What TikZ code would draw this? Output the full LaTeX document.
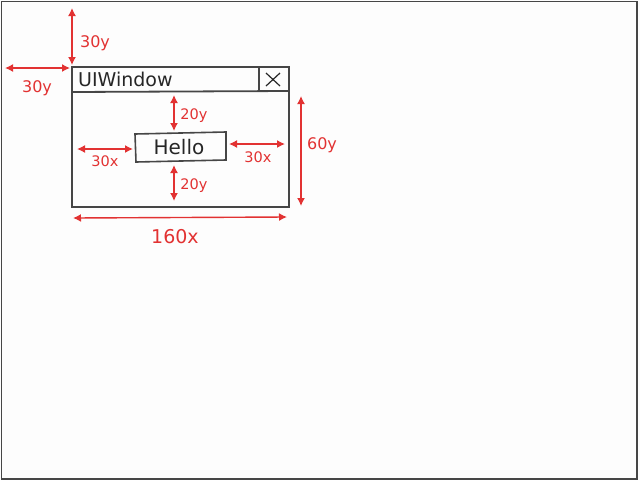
\documentclass[tikz,border=0pt]{standalone}
\usepackage{fontspec}
\setmainfont{DejaVu Sans}
\usetikzlibrary{arrows.meta}
\definecolor{dimred}{RGB}{226,50,50}
\definecolor{ink}{RGB}{70,70,70}
\definecolor{paper}{RGB}{253,253,253}
\begin{document}
\begin{tikzpicture}[x=1pt,y=-1pt,
  frame/.style={draw=ink,line width=1.8pt},
  dim/.style={draw=dimred,line width=1.4pt,{Latex[length=8pt,width=8pt]}-{Latex[length=8pt,width=8pt]}},
  dimlabel/.style={text=dimred,font=\fontsize{15}{15}\selectfont,inner sep=0pt},
  smalllabel/.style={dimlabel,font=\fontsize{14.5}{14.5}\selectfont},
  inktext/.style={text=black!85,inner sep=0pt}]
\useasboundingbox (0,0) rectangle (640,480);
\fill[paper] (0,0) rectangle (640,480);
\draw[draw=ink,line width=1.5pt] (1.5,1.5) rectangle (637,479);
% window
\draw[frame] (72,67) rectangle (289,207);
\draw[frame] (72,92) -- (289,91);
\draw[frame] (259,67) -- (259,91);
\node[inktext,anchor=west,font=\fontsize{19}{19}\selectfont] (title) at (78,79.5) {UIWindow};
\draw[line width=1.2pt,black!85] (266,73) -- (280,86) (266,86) -- (280,73);
% Hello box
\draw[frame,line width=1.6pt] (135,134) -- (226,132) -- (226,160) -- (136,162) -- cycle;
\node[inktext,font=\fontsize{20}{20}\selectfont] (hello) at (179,147) {Hello};
% coordinates
\coordinate (t1) at (72,8);   \coordinate (t2) at (72,65);
\coordinate (l1) at (5,68);   \coordinate (l2) at (70,68);
\coordinate (a1) at (174,95); \coordinate (a2) at (174,131);
\coordinate (b1) at (174,165);\coordinate (b2) at (174,201);
\coordinate (c1) at (77,149); \coordinate (c2) at (133,149);
\coordinate (d1) at (229,144);\coordinate (d2) at (285,144);
\coordinate (r1) at (301,96); \coordinate (r2) at (301,206);
\coordinate (w1) at (73,218); \coordinate (w2) at (287,217);
\draw[dim] (t1) -- (t2);
\draw[dim] (l1) -- (l2);
\draw[dim] (a1) -- (a2);
\draw[dim] (b1) -- (b2);
\draw[dim] (c1) -- (c2);
\draw[dim] (d1) -- (d2);
\draw[dim] (r1) -- (r2);
\draw[dim] (w1) -- (w2);
\node[dimlabel,font=\fontsize{16}{16}\selectfont] (n1) at (95,43) {30y};
\node[dimlabel,font=\fontsize{16}{16}\selectfont] (n2) at (37,88) {30y};
\node[smalllabel] (n3) at (194,116) {20y};
\node[smalllabel] (n4) at (194,186) {20y};
\node[smalllabel] (n5) at (105,161) {30x};
\node[smalllabel] (n6) at (258,157) {30x};
\node[dimlabel,font=\fontsize{16}{16}\selectfont] (n7) at (322,145) {60y};
\node[dimlabel,font=\fontsize{19}{19}\selectfont] (n8) at (175,237) {160x};
\end{tikzpicture}
\end{document}
